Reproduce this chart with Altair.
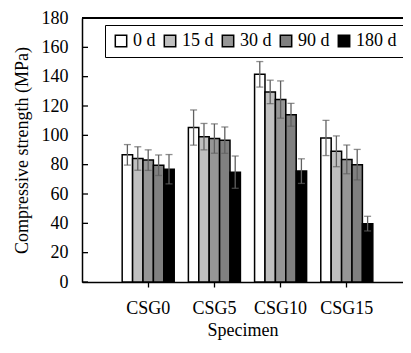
import altair as alt
import pandas as pd

specimens = ["CSG0", "CSG5", "CSG10", "CSG15"]
ages = ["0 d", "15 d", "30 d", "90 d", "180 d"]
colors = ["#ffffff", "#c0c0c0", "#969696", "#808080", "#000000"]

s0 = [86.7, 105.3, 141.6, 98.2]
s15 = [84.2, 99.1, 129.6, 89.1]
s30 = [83.1, 97.8, 124.4, 83.6]
s90 = [79.6, 96.7, 114.0, 80.0]
s180 = [76.9, 74.9, 75.6, 39.8]

e0 = [7.0, 12.0, 8.7, 12.0]
e15 = [8.0, 9.0, 8.0, 10.5]
e30 = [7.0, 10.0, 12.7, 9.8]
e90 = [7.0, 9.0, 7.8, 10.4]
e180 = [10.0, 11.0, 8.4, 5.0]

y_ticks = [0, 20, 40, 60, 80, 100, 120, 140, 160, 180]

rows = []
for age, vals, errs in zip(ages, [s0, s15, s30, s90, s180], [e0, e15, e30, e90, e180]):
    for sp, v, e in zip(specimens, vals, errs):
        rows.append({"Specimen": sp, "Age": age, "Strength": v,
                     "lo": v - e, "hi": v + e})
df = pd.DataFrame(rows)
tick_df = pd.DataFrame({"t": y_ticks})

FONT = "Liberation Serif"
W, H = 321, 264
PAD = {"left": 74, "top": 10, "right": 0, "bottom": 60}

x_scale = alt.Scale(paddingInner=0.214, paddingOuter=0.5315, align=0.571)
x_ax = alt.Axis(title="Specimen", labelAngle=0, tickSize=5,
                labelPadding=12, titlePadding=4, labelOverlap=False)
y_scale = alt.Scale(domain=[0, 180], nice=False, zero=True)
y_ax = alt.Axis(title="Compressive strength (MPa)", values=y_ticks,
                ticks=False, grid=False, labelPadding=14, titlePadding=10,
                labelOverlap=False, labelFlush=False)


def xe():
    return alt.X("Specimen:N", sort=specimens, scale=x_scale, axis=x_ax, title="Specimen")


def ye(field):
    return alt.Y(field, scale=y_scale, axis=y_ax, title="Compressive strength (MPa)")


xo_enc = alt.XOffset("Age:N", sort=ages, scale=alt.Scale(paddingInner=0, paddingOuter=0))

base = alt.Chart(df)

bars = base.mark_bar(stroke="black", strokeWidth=1.5).encode(
    x=xe(),
    xOffset=xo_enc,
    y=ye("Strength:Q"),
    fill=alt.Fill("Age:N", sort=ages,
                  scale=alt.Scale(domain=ages, range=colors),
                  legend=alt.Legend(title=None, orient="none", direction="horizontal",
                                    columns=5, legendX=23, legendY=7,
                                    strokeColor="black", fillColor="white",
                                    padding=7, symbolType="square", symbolSize=130,
                                    symbolStrokeColor="black", symbolStrokeWidth=1.5,
                                    labelFont=FONT, labelFontSize=18, labelColor="black",
                                    labelOffset=3, columnPadding=5)),
)

whisk = base.mark_rule(color="#606060", strokeWidth=1.3).encode(
    x=xe(), xOffset=xo_enc,
    y=ye("lo:Q"), y2="hi:Q",
)
cap_hi = base.mark_tick(color="#606060", orient="horizontal", size=7, thickness=1.3).encode(
    x=xe(), xOffset=xo_enc, y=ye("hi:Q"),
)
cap_lo = base.mark_tick(color="#606060", orient="horizontal", size=7, thickness=1.3).encode(
    x=xe(), xOffset=xo_enc, y=ye("lo:Q"),
)

yticks = alt.Chart(tick_df).mark_rule(color="black", strokeWidth=1.3).encode(
    y=ye("t:Q"),
    x=alt.value(0), x2=alt.value(6),
)
top_line = alt.Chart(tick_df).mark_rule(color="black", strokeWidth=1.5).encode(
    y=alt.value(0), x=alt.value(0), x2=alt.value(W),
)

chart = alt.layer(bars, whisk, cap_hi, cap_lo, yticks, top_line).properties(
    width=W, height=H,
    padding=PAD,
    autosize=alt.AutoSizeParams(type="none"),
).configure_view(stroke=None).configure_axis(
    labelFont=FONT, titleFont=FONT, labelFontSize=18, titleFontSize=18,
    titleFontWeight="normal", labelColor="black", titleColor="black",
    domainColor="black", domainWidth=1.5, tickColor="black", tickWidth=1.3,
)

chart.save("out.html", embed_options={"renderer": "svg", "actions": False})
